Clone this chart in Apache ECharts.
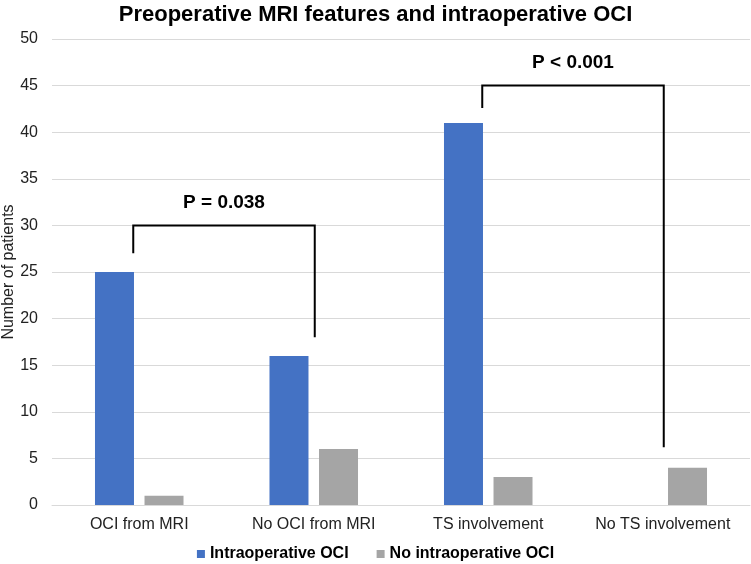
<!DOCTYPE html>
<html>
<head>
<meta charset="utf-8">
<script src="https://cdn.jsdelivr.net/npm/echarts@6/dist/echarts.min.js"></script>
<style>
  html, body { margin: 0; padding: 0; background: #fff; }
  #chart { width: 751px; height: 564px; }
</style>
</head>
<body>
<div id="chart"></div>
<script>
var categories = ['OCI from MRI', 'No OCI from MRI', 'TS involvement', 'No TS involvement'];
var intraOCI = [25, 16, 41, 0];
var noIntraOCI = [1, 6, 3, 4];
var yTicks = [0, 5, 10, 15, 20, 25, 30, 35, 40, 45, 50];

// significance brackets: from category, to category, top, left foot, right foot
var bracketFrom = [0, 2];
var bracketTo = [1, 3];
var bracketTop = [30, 45];
var bracketLeftFoot = [27, 42.6];
var bracketRightFoot = [18, 6.2];
var bracketLabels = ['P = 0.038', 'P < 0.001'];

var bracketData = bracketFrom.map(function (f, i) {
  return [f, bracketTo[i], bracketTop[i], bracketLeftFoot[i], bracketRightFoot[i], bracketLabels[i]];
});

var chartDom = document.getElementById('chart');
var myChart = echarts.init(chartDom);
var option;

option = {
  animation: false,
  textStyle: { fontFamily: 'Liberation Sans, Arial, sans-serif' },
  title: {
    text: 'Preoperative MRI features and intraoperative OCI',
    left: 'center',
    top: -1,
    textStyle: { fontSize: 22, fontWeight: 'bold', color: '#000' }
  },
  legend: {
    data: ['Intraoperative OCI', 'No intraoperative OCI'],
    bottom: -3,
    left: 'center',
    icon: 'rect',
    itemWidth: 8,
    itemHeight: 8,
    itemGap: 28,
    textStyle: { fontSize: 16, fontWeight: 'bold', color: '#000' }
  },
  grid: { left: 52, right: 1, top: 39, bottom: 59, outerBoundsMode: 'none' },
  xAxis: {
    type: 'category',
    data: categories,
    axisLine: { show: true, lineStyle: { color: '#d9d9d9' } },
    axisTick: { show: false },
    axisLabel: { fontSize: 16, color: '#222', margin: 12, interval: 0 }
  },
  yAxis: {
    type: 'value',
    min: yTicks[0],
    max: yTicks[yTicks.length - 1],
    interval: 5,
    name: 'Number of patients',
    nameLocation: 'middle',
    nameGap: 35,
    nameMoveOverlap: false,
    nameTextStyle: { fontSize: 16, color: '#222' },
    axisLine: { show: false },
    axisTick: { show: false },
    axisLabel: { fontSize: 16, color: '#222', margin: 14 },
    splitLine: { lineStyle: { color: '#d9d9d9' } }
  },
  series: [
    {
      name: 'Intraoperative OCI',
      type: 'bar',
      data: intraOCI,
      barWidth: 39,
      barGap: '27%',
      itemStyle: { color: '#4472C4' }
    },
    {
      name: 'No intraoperative OCI',
      type: 'bar',
      data: noIntraOCI,
      barWidth: 39,
      itemStyle: { color: '#A5A5A5' }
    },
    {
      name: 'brackets',
      type: 'custom',
      data: bracketData,
      z: 10,
      renderItem: function (params, api) {
        var left = api.coord([api.value(0), api.value(2)]);
        var right = api.coord([api.value(1), api.value(2)]);
        var leftFoot = api.coord([api.value(0), api.value(3)]);
        var rightFoot = api.coord([api.value(1), api.value(4)]);
        var xl = left[0] - 6;
        var xr = right[0] + 1;
        var label = bracketData[params.dataIndex][5];
        return {
          type: 'group',
          children: [
            {
              type: 'polyline',
              shape: { points: [[xl, leftFoot[1]], [xl, left[1]], [xr, left[1]], [xr, rightFoot[1]]] },
              style: { stroke: '#000', lineWidth: 2, fill: null }
            },
            {
              type: 'text',
              style: {
                text: label,
                x: (xl + xr) / 2,
                y: left[1] - 23,
                align: 'center',
                verticalAlign: 'middle',
                font: 'bold 19px Liberation Sans, Arial, sans-serif',
                fill: '#000'
              }
            }
          ]
        };
      }
    }
  ]
};

option && myChart.setOption(option);
</script>
</body>
</html>
